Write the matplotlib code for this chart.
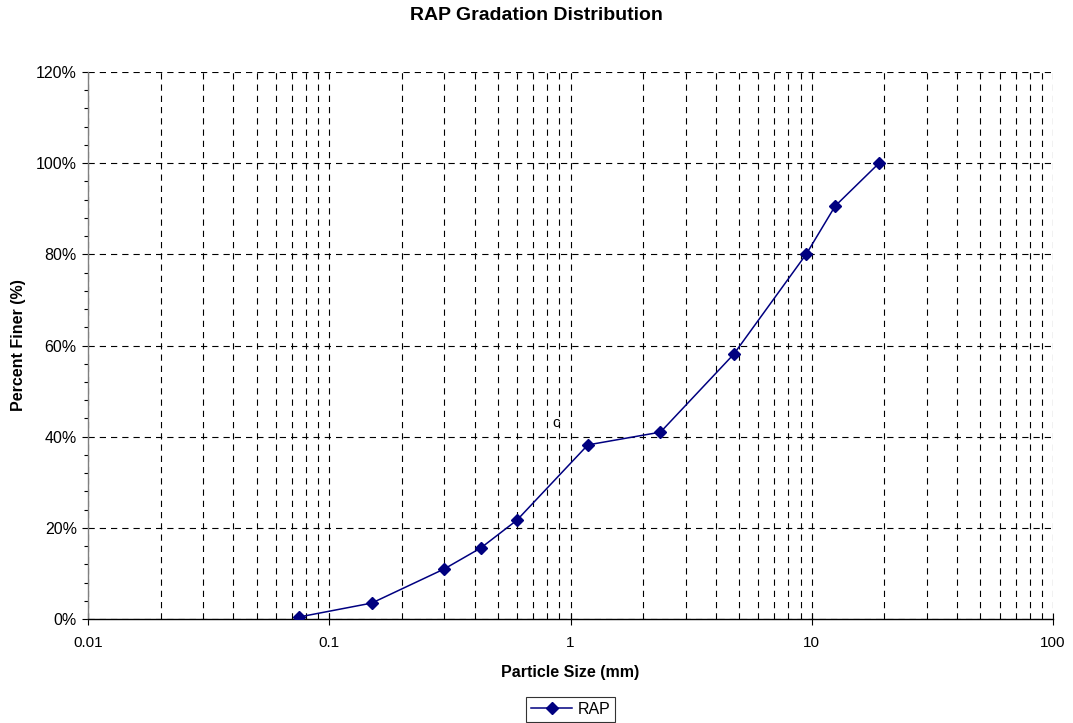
import matplotlib
matplotlib.use("Agg")
import matplotlib.pyplot as plt
from matplotlib.ticker import LogLocator, FixedLocator, FuncFormatter, MultipleLocator, NullFormatter

plt.rcParams['font.family'] = ['Liberation Sans', 'DejaVu Sans']
plt.rcParams['lines.scale_dashes'] = False

# Sieve sizes (mm) and percent passing
sieve_mm = [0.075, 0.15, 0.3, 0.425, 0.6, 1.18, 2.36, 4.75, 9.5, 12.5, 19.0]
percent_finer = [0.45, 3.5, 11.0, 15.6, 21.7, 38.2, 41.0, 58.1, 80.1, 90.6, 100.0]
series_name = "RAP"
x_tick_labels = ["0.01", "0.1", "1", "10", "100"]
x_tick_values = [0.01, 0.1, 1, 10, 100]

fig = plt.figure(figsize=(10.73, 7.23), dpi=100)
ax = fig.add_axes([0.082, 0.1438, 0.8994, 0.7566])

ax.set_xscale('log')
ax.set_xlim(0.01, 100)
ax.set_ylim(0, 120)

grid_kw = dict(color='black', linewidth=0.8, linestyle=(0, (4.5, 3.6)))
ax.xaxis.set_major_locator(FixedLocator(x_tick_values))
ax.xaxis.set_minor_locator(LogLocator(base=10, subs=range(2, 10)))
ax.xaxis.set_major_formatter(FuncFormatter(lambda v, p: x_tick_labels[x_tick_values.index(v)] if v in x_tick_values else ""))
ax.xaxis.set_minor_formatter(NullFormatter())
ax.yaxis.set_major_locator(MultipleLocator(20))
ax.yaxis.set_minor_locator(MultipleLocator(4))
ax.yaxis.set_major_formatter(FuncFormatter(lambda v, p: f"{v:.0f}%"))

ax.grid(True, which='major', axis='both', **grid_kw)
ax.grid(True, which='minor', axis='x', **grid_kw)

ax.plot(sieve_mm, percent_finer, color='#000080', linewidth=1.1,
        marker='D', markersize=6, markerfacecolor='#000080',
        markeredgecolor='#000080', label=series_name, zorder=3)

ax.text(0.87, 43.0, "c", fontsize=11, ha='center', va='center', color='black')

for s in ['top', 'right']:
    ax.spines[s].set_visible(False)
ax.spines['left'].set_color('#808080')
ax.spines['left'].set_linewidth(1.0)
ax.spines['bottom'].set_color('black')
ax.spines['bottom'].set_linewidth(1.0)

ax.tick_params(axis='x', which='major', direction='inout', length=8, width=0.8,
               labelsize=11, pad=8, colors='black')
ax.tick_params(axis='x', which='minor', length=0)
ax.tick_params(axis='y', which='major', direction='out', length=4, width=0.8,
               labelsize=11.5, pad=4)
ax.tick_params(axis='y', which='minor', direction='out', length=3, width=0.8)

ax.set_xlabel("Particle Size (mm)", fontsize=11.5, fontweight='bold', labelpad=11)
ax.set_ylabel("Percent Finer (%)", fontsize=11.5, fontweight='bold', va='center')
ax.yaxis.set_label_coords(-0.0715, 0.5)
fig.text(0.5, 0.979, "RAP Gradation Distribution", ha='center', va='center',
         fontsize=14, fontweight='bold')

leg = ax.legend(loc='center', frameon=True, fancybox=False, edgecolor='black',
                fontsize=11.5, handlelength=2.6, borderpad=0.3, handletextpad=0.3)
leg.set_bbox_to_anchor((0.5 * (88 + 1053) / 1073, 1 - 709.5 / 723), transform=fig.transFigure)
leg.get_frame().set_linewidth(0.8)

fig.savefig("out.png", dpi=100)
